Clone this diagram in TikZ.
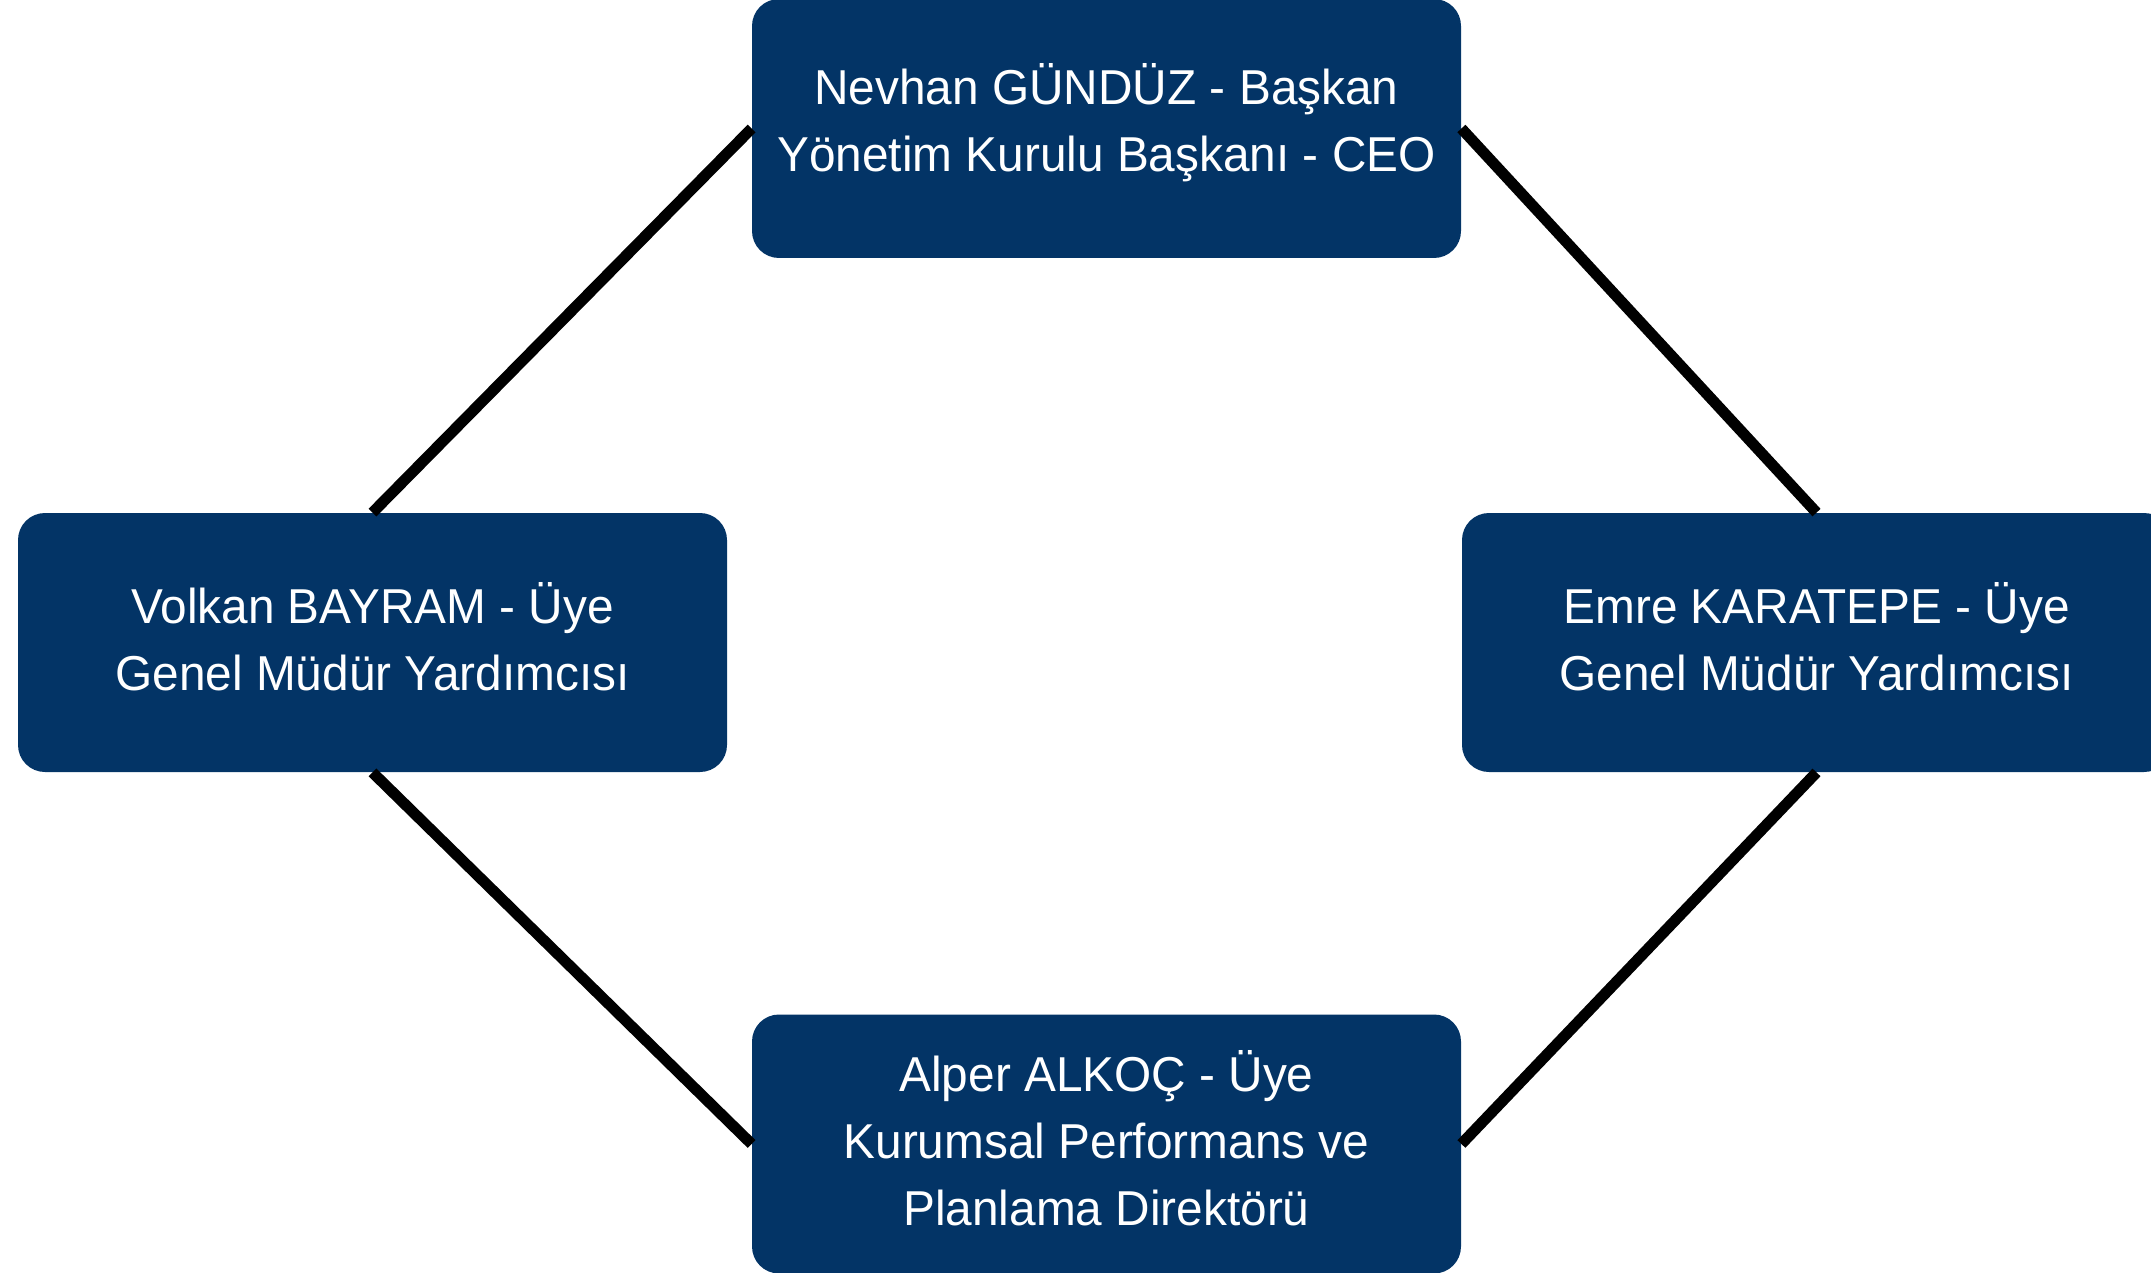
\documentclass[tikz,border=0pt]{standalone}
\usepackage{fontspec}
\setmainfont[FakeStretch=0.975]{Liberation Sans}
\definecolor{navy}{HTML}{033466}
\begin{document}
\begin{tikzpicture}[x=0.5pt,y=-0.5pt,
  member/.style={rectangle, rounded corners=13.5pt, fill=navy,
    minimum width=354.5pt, minimum height=129.5pt, inner sep=0pt,
    label={[text=white, align=center, yshift=2.75pt,
      font=\fontsize{24.5pt}{33.5pt}\selectfont]center:#1}},
  link/.style={line width=5.5pt, black, line cap=butt}]
\useasboundingbox (0,0) rectangle (2151,1273);
\node[member={Nevhan GÜNDÜZ - Başkan\\Yönetim Kurulu Başkanı - CEO}] (top) at (1106.5,128.5) {};
\node[member={Volkan BAYRAM - Üye\\Genel Müdür Yardımcısı}] (left) at (372.5,642.5) {};
\node[member={Emre KARATEPE - Üye\\Genel Müdür Yardımcısı}] (right) at (1816.5,642.5) {};
\node[member={Alper ALKOÇ - Üye\\Kurumsal Performans ve\\Planlama Direktörü}] (bottom) at (1106.5,1144) {};
\draw[link] (top.west) -- (left.north);
\draw[link] (top.east) -- (right.north);
\draw[link] (left.south) -- (bottom.west);
\draw[link] (right.south) -- (bottom.east);
\end{tikzpicture}
\end{document}
